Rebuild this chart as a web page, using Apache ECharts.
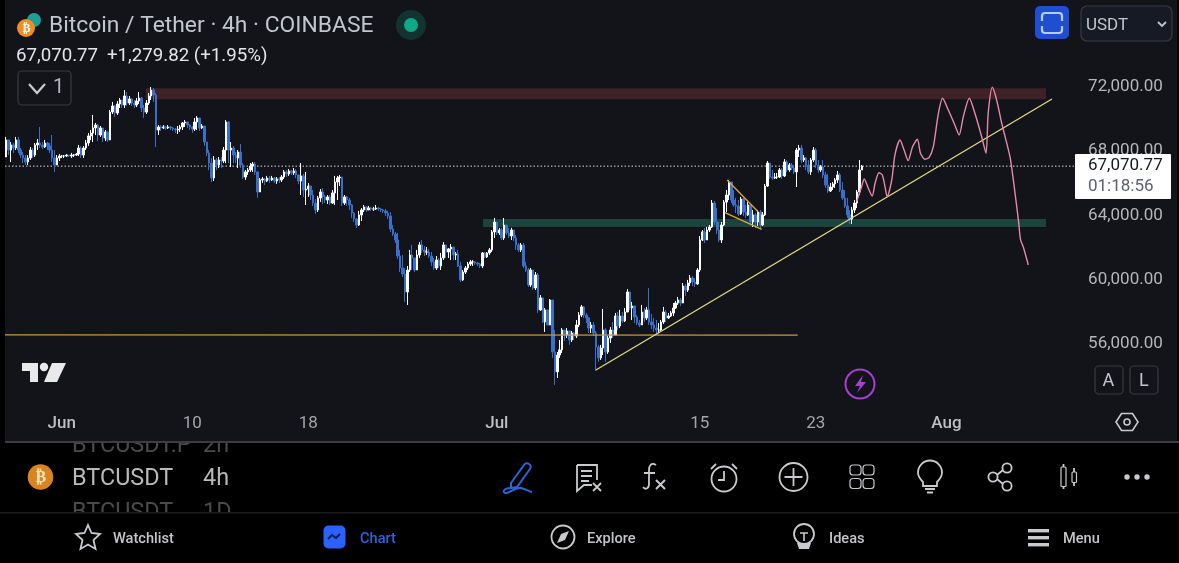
<!DOCTYPE html>
<html>
<head>
<meta charset="utf-8">
<title>BTCUSDT 4h</title>
<script src="https://cdn.jsdelivr.net/npm/echarts@6/dist/echarts.min.js"></script>
<style>
  html, body { margin: 0; padding: 0; background: #000; }
  #chart { width: 1179px; height: 563px; }
</style>
</head>
<body>
<div id="chart"></div>
<script>
// 4h candles, oldest first
const opens = [
  67640,68700,68070,68390,68200,68700,68070,67760,67580,67330,
  67580,68070,67760,68390,68510,68390,68260,68510,68330,68070,
  67580,67140,67580,67700,67700,67700,67760,67700,67760,67760,
  67820,68200,67760,68200,68510,68950,69130,69450,69630,69010,
  69450,68820,69200,68700,70440,70820,70380,70940,71190,70880,
  71440,71000,71250,71000,70880,71130,71310,70690,70440,71000,
  71440,71810,71500,69320,69510,69450,69510,69450,69510,69450,
  69380,69320,69380,69510,69760,69820,69630,69510,69380,69820,
  70070,69450,69570,68570,67890,67260,66330,67450,67140,67450,
  67390,68070,69820,68070,68200,67760,67580,67950,67140,66390,
  66710,66830,67080,67200,66710,65460,66210,66270,66140,66330,
  66210,66330,66140,66270,66210,66390,66710,66580,66770,66640,
  66770,66520,66140,66460,65580,65640,65830,65270,64770,64340,
  65090,65460,65150,64960,65150,64770,65400,66080,66330,66390,
  64770,65150,64960,64650,64150,63770,63400,64030,64340,64530,
  64340,64460,64400,64400,64460,64400,64340,64280,64150,63960,
  63150,62840,62470,61470,60720,60350,59230,60600,61530,61350,
  60600,61530,62160,61850,61720,61720,61470,61100,60720,61220,
  60850,61350,62160,61720,61910,62030,61530,61600,60850,59980,
  60470,60720,60970,61100,61100,61040,60970,60850,61660,61410,
  61660,61850,62970,63590,62910,63090,62590,63400,62910,62720,
  63090,62590,62160,61850,62160,60850,60600,59670,60600,59480,
  60290,58110,58860,57360,58110,57170,58730,55490,54250,55300,
  55620,56860,56550,56800,56240,56670,56490,57170,57790,58300,
  57790,57610,56980,57170,56670,55800,55120,55740,56860,55490,
  56360,56860,56550,57730,57110,57730,57420,57980,59230,58230,
  58360,57670,57300,57170,57980,57610,58110,57360,57170,56980,
  56860,56860,57360,57980,57610,57730,57920,58230,58540,58730,
  58540,59600,59350,59790,60100,59850,59730,60600,62470,62970,
  62470,63090,63280,64770,63590,63090,62470,63400,64830,65270,
  66080,64960,64650,64590,64090,65020,64210,64030,64650,63590,
  64030,63590,64210,63400,64030,65830,67260,66390,66330,66390,
  66390,66830,66460,67330,66830,67140,66950,66710,68070,68200,
  67450,67580,67140,66710,67450,68070,67140,66830,67020,66520,
  65890,65520,65770,65960,66210,66520,65580,65090,64590,64030,
  63770,64340,64770,65460,66830
]
const closes = [
  68700,68070,68390,68200,68700,68070,67760,67580,67330,67580,
  68070,67760,68390,68510,68390,68260,68510,68330,68070,67580,
  67140,67580,67700,67700,67700,67760,67700,67760,67760,67820,
  68200,67760,68200,68510,68950,69130,69450,69630,69010,69450,
  68820,69200,68700,70440,70820,70380,70940,71190,70880,71440,
  71000,71250,71000,70880,71130,71310,70690,70440,71000,71440,
  71810,71500,69320,69510,69450,69510,69450,69510,69450,69380,
  69320,69380,69510,69760,69820,69630,69510,69380,69820,70070,
  69450,69570,68570,67890,67260,66330,67450,67140,67450,67390,
  68070,69820,68070,68200,67760,67580,67950,67140,66390,66710,
  66830,67080,67200,66710,65460,66210,66270,66140,66330,66210,
  66330,66140,66270,66210,66390,66710,66580,66770,66640,66770,
  66520,66140,66460,65580,65640,65830,65270,64770,64340,65090,
  65460,65150,64960,65150,64770,65400,66080,66330,66390,64770,
  65150,64960,64650,64150,63770,63400,64030,64340,64530,64340,
  64460,64400,64400,64460,64400,64340,64280,64150,63960,63150,
  62840,62470,61470,60720,60350,59230,60600,61530,61350,60600,
  61530,62160,61850,61720,61720,61470,61100,60720,61220,60850,
  61350,62160,61720,61910,62030,61530,61600,60850,59980,60470,
  60720,60970,61100,61100,61040,60970,60850,61660,61410,61660,
  61850,62970,63590,62910,63090,62590,63400,62910,62720,63090,
  62590,62160,61850,62160,60850,60600,59670,60600,59480,60290,
  58110,58860,57360,58110,57170,58730,55490,54250,55300,55620,
  56860,56550,56800,56240,56670,56490,57170,57790,58300,57790,
  57610,56980,57170,56670,55800,55120,55740,56860,55490,56360,
  56860,56550,57730,57110,57730,57420,57980,59230,58230,58360,
  57670,57300,57170,57980,57610,58110,57360,57170,56980,56860,
  56860,57360,57980,57610,57730,57920,58230,58540,58730,58540,
  59600,59350,59790,60100,59850,59730,60600,62470,62970,62470,
  63090,63280,64770,63590,63090,62470,63400,64830,65270,66080,
  64960,64650,64590,64090,65020,64210,64030,64650,63590,64030,
  63590,64210,63400,64030,65830,67260,66390,66330,66390,66390,
  66830,66460,67330,66830,67140,66950,66710,68070,68200,67450,
  67580,67140,66710,67450,68070,67140,66830,67020,66520,65890,
  65520,65770,65960,66210,66520,65580,65090,64590,64030,63770,
  64340,64770,65460,66830,67070
]
const highs = [
  68890,68700,68570,68510,68890,68890,68200,67950,67760,67760,
  68260,68200,68510,68760,69510,68570,68700,68570,68510,69010,
  68070,67760,67820,67760,67760,67820,67760,67890,67820,67890,
  68390,68330,68330,68700,69130,69320,70260,69760,69690,69570,
  69450,69320,69200,70570,71070,70880,71130,71310,71190,71810,
  71690,71440,71310,71190,71310,71690,71380,70880,71190,71630,
  72000,71940,71630,69630,69630,69630,69570,69630,69570,69510,
  69450,69570,69630,69820,69940,69820,69690,69570,70070,70190,
  70070,69690,69570,68570,68070,67580,67700,67580,67640,67640,
  68260,69940,69880,68570,68330,67950,68070,68450,67260,66830,
  66950,67260,67330,67330,66710,66330,66390,66330,66460,66460,
  66460,66390,66390,66390,66520,66830,66830,66890,66830,66950,
  66890,66460,67260,66580,66710,66020,65830,65580,65020,65210,
  65640,65700,65270,65270,65270,65580,66460,66460,66520,66390,
  65270,65210,65090,64710,64210,63840,64280,64460,64650,64590,
  64590,64530,64530,64650,64530,64460,64400,64400,64280,64210,
  63400,62970,62910,61850,61530,60720,60850,61850,62160,61350,
  61850,62340,62470,62090,62030,61910,61720,61350,61470,61350,
  61660,62340,62160,61970,62220,61850,61720,61850,61100,60600,
  60850,61100,61220,61220,61160,61100,61040,61720,61720,61720,
  61970,63090,63840,63470,63220,63220,63840,63340,63220,63220,
  63090,62780,62280,62280,62280,61100,60720,60720,60600,60470,
  60410,59040,58860,58230,58110,58790,58730,56860,55490,56240,
  56980,56740,56980,56740,56800,56740,57480,57980,58420,58360,
  57920,57670,57360,57360,56800,55930,55930,58170,56980,56490,
  57040,57360,57920,57980,58110,57980,58230,59410,59100,58610,
  58230,57790,57480,58420,58230,58300,59480,57860,57610,57480,
  57300,57480,58300,58110,57920,58050,58540,58670,58920,58860,
  59790,59730,59980,60290,60230,60100,60720,62720,63090,63220,
  63280,63400,64960,64900,64460,63590,63590,64960,65580,66210,
  66020,65580,65090,64960,65150,65090,64650,64830,64710,64340,
  64150,64340,64340,64210,65960,67390,67260,66830,66640,66640,
  66950,66950,67510,67450,67260,67260,67140,68200,68390,68390,
  67760,67640,67450,67580,68260,68200,67450,67140,67450,66710,
  66580,66020,66080,66330,66770,66640,66080,65580,65090,64340,
  64530,64960,65580,67450,67140
]
const lows = [
  67640,67760,67330,67890,68070,67890,67580,67260,67140,67140,
  67450,67580,67640,68070,68200,68130,68200,68070,67890,67330,
  66710,67140,67390,67580,67580,67640,67640,67580,67640,67700,
  67700,67580,67580,68070,68330,68700,68570,69010,68630,68890,
  68570,68630,68570,68890,70320,70130,70260,70690,70690,70690,
  70820,70880,70820,70690,70750,70940,70440,70070,70320,70880,
  71190,71070,68260,69010,69260,69380,69320,69380,69320,69260,
  69130,69070,69200,69320,69510,69450,69320,69130,69260,69320,
  69260,69380,68330,67700,66830,66080,66140,66830,66950,66950,
  67260,67260,67260,67020,67260,67260,66950,66950,66270,66210,
  66520,66710,66710,66520,65090,65460,66020,65890,66080,66020,
  66140,66020,65960,66020,66080,66270,66390,66460,66520,66520,
  66330,65960,65270,65150,64650,65150,64960,64590,64090,64210,
  64840,64710,64770,64710,64650,64710,64650,64960,65830,64590,
  64650,64590,64340,63840,63590,63220,63340,63650,64210,64210,
  64340,64280,64280,64340,64280,64210,64150,63960,63770,62970,
  62720,62280,61290,60470,60160,58610,58420,60470,60600,60470,
  60600,61350,61660,61470,61530,61350,60850,60600,60600,60720,
  60600,61220,61350,61350,61220,61220,61220,60780,59850,59920,
  60350,60600,60850,60850,60910,60850,60720,60720,61350,61350,
  61540,61720,62590,62780,62780,62470,62470,62780,62590,62470,
  62410,61850,61720,61720,60720,60470,59540,59540,59350,59350,
  57920,58050,57300,56740,57170,57170,55120,53440,53870,55120,
  55430,56180,56360,55930,56110,56240,56360,57040,57670,57610,
  57300,56670,56670,56490,54310,54870,54990,55300,54870,55370,
  56050,56360,56550,56860,56980,57300,57360,57980,58110,57480,
  57300,57170,57040,57170,57360,57480,57170,56920,56740,56610,
  56670,56800,57240,57360,57550,57670,57730,58170,58420,58360,
  58730,58980,59230,59600,59600,59540,59670,60470,62410,62280,
  62470,62970,63220,63400,62840,62340,62280,63340,64210,64960,
  64770,64530,64150,63960,64030,63960,63840,63960,63400,63280,
  63220,63340,63150,63340,63960,65770,66270,66210,66270,66270,
  66330,66270,66390,66710,66710,66830,66580,65770,67640,67260,
  67330,66830,66580,66520,67330,66950,66640,66710,66330,65710,
  65400,65460,65580,65710,66020,65460,64960,64460,63840,63470,
  63470,64150,64460,65270,66830
]

const lastPrice = 67070
const barCount = 444 // candles + empty space on the right of the pane

const priceTicks = [56000, 60000, 64000, 68000, 72000]
const timeTickDates = ['06-01 00', '06-10 00', '06-18 00', '07-01 00', '07-15 00', '07-23 00', '08-01 00']
const timeTickLabels = ['Jun', '10', '18', 'Jul', '15', '23', 'Aug']

// drawings, x is counted in candle widths from the left edge
const resistanceZone = [[58.3, 71920], [430.7, 71230]]
const supportZone = [[197.8, 63780], [430.7, 63280]]
const baseLine = [[0, 56560], [328, 56540]]
const trendLine = [[244.5, 54370], [433.2, 71250]]
const flagTop = [[298.8, 66210], [311.5, 64240]]
const flagBottom = [[297.9, 64170], [313.1, 63130]]
const sketchX = [352.4,354.4,355.5,357.2,358.8,360,361.6,363,364.1,365,366.9,368.2,370.3,372,373.7,375.5,377.5,378.8,380.6,382.4,384.1,386.2,387.9,390.3,393,394.8,396.5,399,401.3,404.1,405.9,406.8,408.5,410.3,412.4,415.8,417.2,419.3,420.2,421.3,423.4]
const sketchY = [64850,65790,66270,65690,65210,66000,66660,66520,65790,65170,66210,67760,68700,68070,67410,68280,68740,67870,67500,67620,68280,70360,71300,70570,69630,69010,70150,71300,70360,68900,67870,70360,71980,71190,69740,67660,66210,63710,62470,62050,60910]

const BG = '#131419'
const TXT = '#b4b6bc'
const BORDER = '#3a3b40'
const BLUE = '#2f62dc'

// category per 4h bar, first one is May 28 04:00
const categories = []
const pad = n => String(n).padStart(2, '0')
for (let i = 0; i < barCount; i++) {
  const d = new Date(Date.UTC(2024, 4, 28, 4 + i * 4))
  categories.push(pad(d.getUTCMonth() + 1) + '-' + pad(d.getUTCDate()) + ' ' + pad(d.getUTCHours()))
}

const candleData = closes.map((c, i) => [opens[i], c, lows[i], highs[i]])

function overlayLine(points, color, width, extra) {
  return Object.assign({
    type: 'line', xAxisIndex: 1, data: points, showSymbol: false, silent: true, z: 5,
    lineStyle: { color: color, width: width }
  }, extra)
}

function txt(x, y, text, size, fill, extra) {
  return Object.assign({
    type: 'text', x: x, y: y, z: 10, silent: true,
    style: Object.assign({
      text: text, fontFamily: 'Roboto', fontSize: size, fill: fill,
      verticalAlign: 'middle', align: 'left'
    }, extra && extra.style)
  }, extra && { z: extra.z || 10 })
}
function box(x, y, w, h, r, fill, stroke, z) {
  return {
    type: 'rect', z: z == null ? 10 : z, silent: true,
    shape: { x: x, y: y, width: w, height: h, r: r },
    style: { fill: fill, stroke: stroke || null, lineWidth: 1.2 }
  }
}
function circle(cx, cy, r, fill, stroke, lw) {
  return {
    type: 'circle', z: 10, silent: true, shape: { cx: cx, cy: cy, r: r },
    style: { fill: fill, stroke: stroke || null, lineWidth: lw || 1.8 }
  }
}
// graphic has no plain svg path type, so every icon gets its own shape class
let iconCount = 0
function icon(d, stroke, lw, fill) {
  const name = 'uiIcon' + iconCount++
  echarts.graphic.registerShape(name, echarts.graphic.extendPath(d))
  return {
    type: name, z: 10, silent: true,
    style: { fill: fill || 'none', stroke: stroke, lineWidth: lw || 1.8 }
  }
}

const ICON = '#c9cacd'
const graphics = [
  // background panels
  txt(72, 446, 'BTCUSDT.P', 23.4, '#4a4a4a', { z: -3 }), txt(203, 446, '2h', 23.4, '#4a4a4a', { z: -3 }),
  txt(72, 513, 'BTCUSDT', 23.4, '#4a4a4a', { z: -3 }), txt(203, 513, '1D', 23.4, '#4a4a4a', { z: -3 }),
  box(5, 0, 1172, 441, 0, BG, null, -1),
  box(5, 441, 1174, 2, 0, '#3c3d41', null, -1),
  box(0, 512, 1179, 51, 0, '#000', null, -1),
  box(0, 512, 1179, 1.5, 0, '#1c1c20', null, -1),

  // header
  circle(34, 20, 7, '#1f9e95'),
  circle(26, 28, 9, '#ef8f22'),
  txt(22.5, 28.5, '₿', 12, '#fff', { style: { fontFamily: 'DejaVu Sans', fontWeight: 'bold' } }),
  txt(49, 26.5, 'Bitcoin / Tether · 4h · COINBASE', 22.85, '#c3c6ce'),
  circle(411, 25, 15, '#13332f'),
  circle(411, 25, 7, '#0fa987'),
  txt(16, 56, '67,070.77', 18.7, '#e4e5e8'),
  txt(107, 56, '+1,279.82 (+1.95%)', 18.7, '#e4e5e8'),
  box(18, 71, 53, 34, 4, 'none', BORDER),
  icon('M29 84 L37 93 L45 84', '#c9cacd', 2.2),
  txt(53, 88, '1', 20, '#b4b6bc'),

  // top right buttons
  box(1035, 6, 34, 33, 5, '#1e4fd0'),
  icon('M1042 21 V16 Q1042 13 1045 13 H1059 Q1062 13 1062 16 V21 M1042 26 V30 Q1042 33 1045 33 H1059 Q1062 33 1062 30 V26', '#b9cbf7', 2.2),
  box(1081, 6, 91, 35, 6, '#161a24', BORDER),
  txt(1086, 26, 'USDT', 17, '#c3c6ce'),
  icon('M1158 22 L1162 26 L1166 22', '#c3c6ce', 1.8),

  // last price tag
  box(1075, 154, 96, 45, 1, '#ffffff', null, 20),
  txt(1088, 165.5, '67,070.77', 17, '#131722', { z: 21 }),
  txt(1088, 186.5, '01:18:56', 17, '#5d606b', { z: 21 }),

  // pane buttons
  box(1095, 366, 28, 28, 4, 'none', BORDER),
  txt(1102.5, 381.5, 'A', 18, '#c3c6ce'),
  box(1130, 366, 28, 28, 4, 'none', BORDER),
  txt(1139, 381.5, 'L', 18, '#c3c6ce'),
  icon('M1116 422 L1121.5 413.5 H1132.5 L1138 422 L1132.5 430.5 H1121.5 Z', '#c9cacd', 1.6),
  circle(1127, 422, 3, 'none', '#c9cacd', 1.6),

  // logo
  icon('M22 363 H38 V382 H30 V371 H22 Z', 'none', 0, '#e9e9ea'),
  circle(44, 367, 4.2, '#e9e9ea'),
  icon('M52 363 H66 L57 382 H44 Z', 'none', 0, '#e9e9ea'),

  // lightning
  circle(860, 384, 14.5, 'none', '#a63fd2', 2),
  icon('M863 375 L855 386 H860 L857 393 L866 382 H861 Z', 'none', 0, '#a63fd2'),

  // toolbar row
  circle(40.5, 477, 12.8, '#d9851e'),
  txt(35.5, 477.5, '₿', 16, '#f6e3c6', { style: { fontFamily: 'DejaVu Sans', fontWeight: 'bold' } }),
  txt(72, 479, 'BTCUSDT', 23.4, '#b9b9bb'),
  txt(203, 479, '4h', 23.4, '#b9b9bb'),
  icon('M511 483 L524 465 Q526 462 529 464 Q532 466 530 469 L517 487 L511 488 Z M511 488 C503 488 502 493 506 493 C510 493 515 487 521 488 C525 489 529 491 532 492', BLUE, 2),
  icon('M577 465 H597 V480 M577 465 V491 L584 485 H592 M581 471 H592 M581 476 H592 M581 481 H589', ICON, 1.8),
  icon('M593 483 L601 491 M601 483 L593 491', ICON, 1.8),
  icon('M656 465 C651 462 649 466 649 470 V484 C649 489 645 490 643 487 M644 473 H655', ICON, 1.8),
  icon('M656 480 L665 489 M665 480 L656 489', ICON, 2),
  circle(724, 479, 12.5, 'none', ICON),
  icon('M724 471 V480 H718 M711 469 L716 464 M737 469 L732 464', ICON, 1.8),
  circle(793.5, 477, 14, 'none', ICON),
  icon('M793.5 468 V486 M784.5 477 H802.5', ICON, 1.8),
  box(850, 465, 11, 10, 3, 'none', ICON), box(863, 465, 11, 10, 3, 'none', ICON),
  box(850, 478.5, 11, 10, 3, 'none', ICON), box(863, 478.5, 11, 10, 3, 'none', ICON),
  icon('M923 482 C919 478 918 475 918 472.5 A12 12 0 1 1 942 472.5 C942 475 941 478 937 482 V486 H923 Z M925 489 H935 M927 492.5 H933', ICON, 1.8),
  circle(1007, 468, 4.6, 'none', ICON), circle(993, 477, 4.6, 'none', ICON), circle(1007, 486, 4.6, 'none', ICON),
  icon('M997 475 L1003 470 M997 479 L1003 484', ICON, 1.8),
  box(1061, 467, 5, 19.5, 1, 'none', ICON), box(1072, 472, 4.5, 10.5, 1, 'none', ICON),
  icon('M1063.5 464 V467 M1063.5 486.5 V489 M1074 468 V472 M1074 482.5 V486', ICON, 1.8),
  circle(1127, 477, 2.7, ICON), circle(1137, 477, 2.7, ICON), circle(1147, 477, 2.7, ICON),

  // bottom nav
  icon('M88 525 L91.5 533 L100 534 L93.5 540 L95.5 549 L88 544.5 L80.5 549 L82.5 540 L76 534 L84.5 533 Z', ICON, 1.8),
  txt(113, 539, 'Watchlist', 14.6, '#c4c5c8', { style: { fontWeight: 500 } }),
  box(323.5, 525.5, 22, 23, 5, '#2962ff'),
  icon('M328 539 L332 535 L336 538 L340 534', '#0b1a44', 1.8),
  txt(360, 539, 'Chart', 14.6, '#2f62dc', { style: { fontWeight: 500 } }),
  circle(563, 537, 11.5, 'none', ICON),
  icon('M569 531 L565 540 L557 543 L561 534 Z', 'none', 0, ICON),
  txt(587, 539, 'Explore', 14.6, '#c4c5c8', { style: { fontWeight: 500 } }),
  circle(804, 534, 10, 'none', ICON),
  icon('M800 533 H808 M804 533 V541', ICON, 1.6),
  icon('M797 543 H811 L809 549 H799 Z', 'none', 0, ICON),
  txt(829, 539, 'Ideas', 14.6, '#c4c5c8', { style: { fontWeight: 500 } }),
  box(1028, 529, 21, 3.4, 0, ICON), box(1028, 536, 21, 3.4, 0, ICON), box(1028, 543, 21, 3.4, 0, ICON),
  txt(1063, 539, 'Menu', 14.6, '#c4c5c8', { style: { fontWeight: 500 } })
]

const myChart = echarts.init(document.getElementById('chart'))
const option = {
  backgroundColor: '#000',
  animation: false,
  tooltip: { show: false },
  graphic: { elements: graphics },
  grid: { left: 5, top: 54.9, width: 1073.1, height: 353.1 },
  xAxis: [
    {
      type: 'category',
      data: categories,
      boundaryGap: true,
      axisLine: { show: false },
      axisTick: { show: false },
      splitLine: { show: false },
      axisLabel: {
        margin: 7,
        interval: (i, v) => timeTickDates.includes(v),
        formatter: v => {
          const s = timeTickLabels[timeTickDates.indexOf(v)]
          return isNaN(+s) ? '{m|' + s + '}' : '{d|' + s + '}'
        },
        rich: {
          m: { fontFamily: 'Roboto', fontSize: 17, fontWeight: 500, color: '#bdbfc4' },
          d: { fontFamily: 'Roboto', fontSize: 17, color: '#a3a5ab' }
        }
      }
    },
    // hidden axis for the hand drawn lines
    { type: 'value', min: 0, max: barCount, show: false }
  ],
  yAxis: {
    type: 'value',
    position: 'right',
    min: 52000,
    max: 74000,
    interval: 4000,
    axisLine: { show: false },
    axisTick: { show: false },
    splitLine: { show: false },
    axisLabel: {
      customValues: priceTicks,
      margin: 10,
      padding: [0, 0, 4, 0],
      fontFamily: 'Roboto',
      fontSize: 17,
      color: TXT,
      formatter: v => v.toLocaleString('en-US', { minimumFractionDigits: 2 })
    }
  },
  series: [
    {
      type: 'line', xAxisIndex: 1, data: [], silent: true, z: 1,
      markArea: {
        silent: true,
        data: [
          [{ coord: resistanceZone[0], itemStyle: { color: '#3f2128' } }, { coord: resistanceZone[1] }],
          [{ coord: supportZone[0], itemStyle: { color: '#1c443c' } }, { coord: supportZone[1] }]
        ]
      }
    },
    overlayLine([[0, lastPrice], [barCount, lastPrice]], '#d8d8da', 1, { lineStyle: { color: '#d8d8da', width: 1, type: [1.5, 2] }, z: 2 }),
    {
      type: 'candlestick',
      xAxisIndex: 0,
      data: candleData,
      barWidth: 2,
      silent: true,
      z: 3,
      itemStyle: {
        color: '#ffffff', color0: '#3a70cc',
        borderColor: '#ffffff', borderColor0: '#3a70cc', borderWidth: 1
      }
    },
    overlayLine(baseLine, '#c9973f', 1.2),
    overlayLine(trendLine, '#e0da86', 1.3),
    overlayLine(flagTop, '#d9a74a', 1.3),
    overlayLine(flagBottom, '#d9a74a', 1.3),
    overlayLine(sketchX.map((x, i) => [x, sketchY[i]]), '#e48aa8', 1.4, { smooth: 0.25 })
  ]
}
myChart.setOption(option)
</script>
</body>
</html>
